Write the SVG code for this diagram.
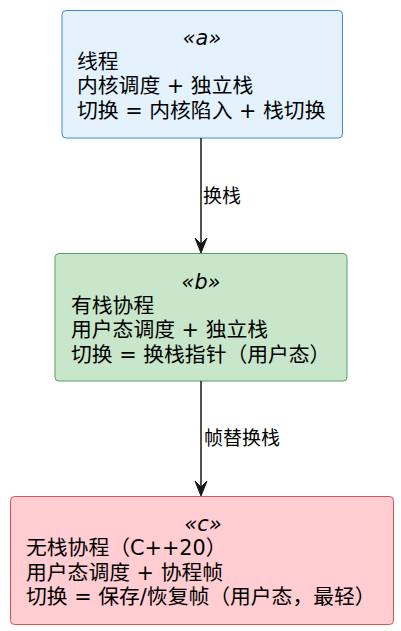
<svg xmlns="http://www.w3.org/2000/svg" width="401" height="631" viewBox="0 0 401 631">
<style>
text{font-family:"DejaVu Sans","Noto Sans CJK SC",sans-serif;fill:#000;}
.t{font-size:20.8px;}
.st{font-size:20.8px;font-style:italic;text-anchor:middle;}
.el{font-size:19px;}
.box{stroke-width:1;}
.edge{stroke:#181818;stroke-width:1.5;fill:none;}
.head{fill:#181818;stroke:#181818;stroke-width:1;}
</style>
<rect width="401" height="631" fill="#FFFFFF"/>
<g id="a">
<rect class="box" x="62" y="10.5" width="280.5" height="127.5" rx="4" fill="#E3F2FD" stroke="#3D8AD8"/>
<text class="st" x="202" y="45">«a»</text>
<text class="t" x="77" y="68.5">线程</text>
<text class="t" x="77" y="93">内核调度 + 独立栈</text>
<text class="t" x="77" y="117.5">切换 = 内核陷入 + 栈切换</text>
</g>
<g id="b">
<rect class="box" x="55" y="253.5" width="292" height="127.5" rx="4" fill="#C8E6C9" stroke="#5C9E5F"/>
<text class="st" x="201" y="288.5">«b»</text>
<text class="t" x="71" y="312.5">有栈协程</text>
<text class="t" x="71" y="337">用户态调度 + 独立栈</text>
<text class="t" x="71" y="361.5">切换 = 换栈指针（用户态）</text>
</g>
<g id="c">
<rect class="box" x="10.5" y="496.5" width="383" height="128" rx="4" fill="#FFCDD2" stroke="#D9534F"/>
<text class="st" x="203" y="531">«c»</text>
<text class="t" x="26" y="555">无栈协程（C++20）</text>
<text class="t" x="26" y="579.5">用户态调度 + 协程帧</text>
<text class="t" x="26" y="604">切换 = 保存/恢复帧（用户态，最轻）</text>
</g>
<g id="connectors">
<path class="edge" d="M201,138 L201,246"/>
<polygon class="head" points="195,238 201,253 207,238 201,244"/>
<text class="el" x="203" y="202.5">换栈</text>
<path class="edge" d="M201,381 L201,489"/>
<polygon class="head" points="195,481 201,496 207,481 201,487"/>
<text class="el" x="204" y="445">帧替换栈</text>
</g>
</svg>
